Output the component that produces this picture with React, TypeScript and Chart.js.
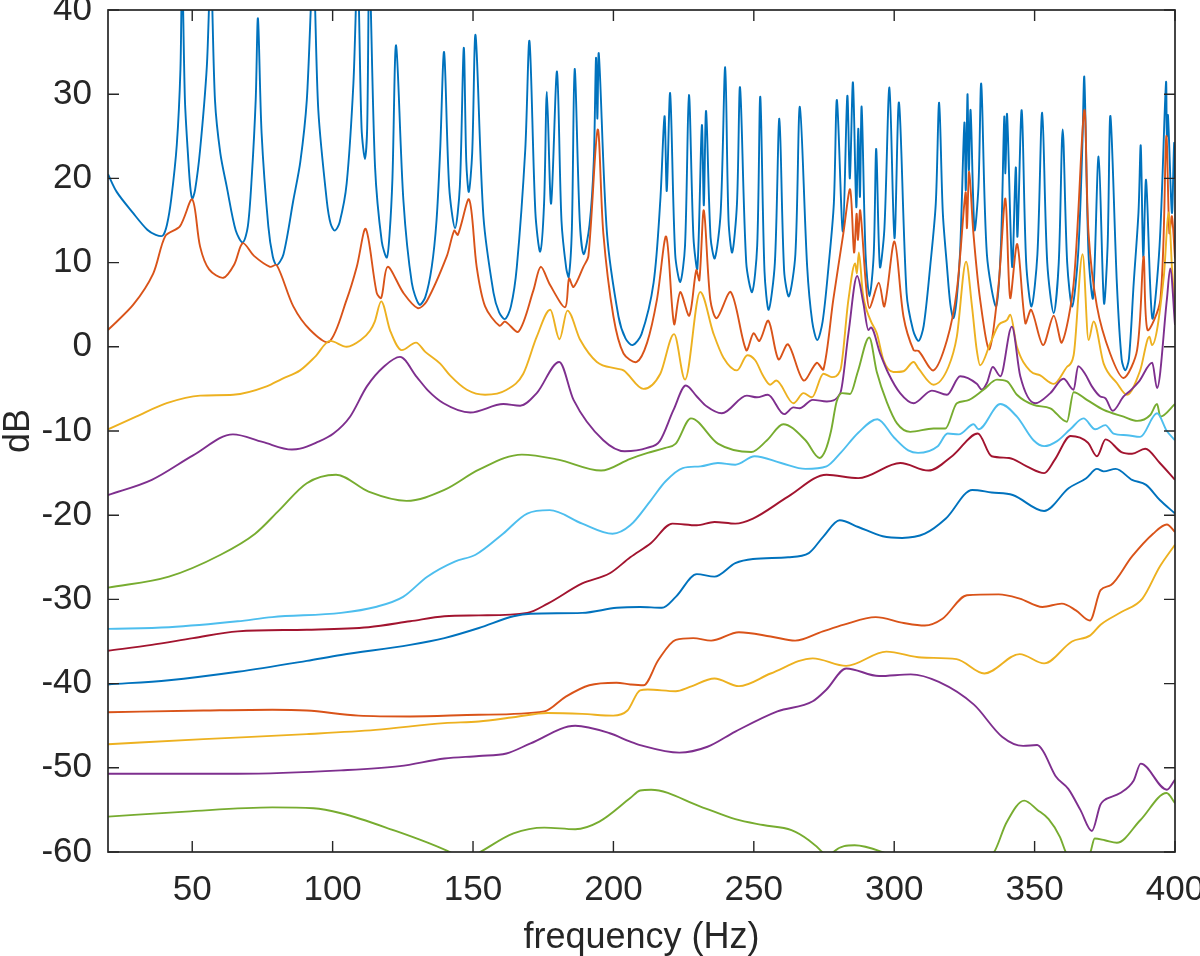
import React, { useEffect, useRef } from 'react';
import { Chart, registerables } from 'chart.js';

Chart.register(...registerables);

type P = [number, number];

// axis ticks
const xTicks = [50, 100, 150, 200, 250, 300, 350, 400];
const yTicks = [-60, -50, -40, -30, -20, -10, 0, 10, 20, 30, 40];

// series: [frequency (Hz), level (dB)]
const blueTop: P[] = [[20,20.5],[23.1,18.4],[28.9,15.9],[34,13.9],[37,13.3],[39.5,13.2],[41,14.5],[42.5,17.5],[44.5,24],[45.8,33],[46.4,45],[47.4,29.3],[48.6,22.2],[49.3,19.0],[50.0,17.6],[51.0,18.6],[52.8,23.4],[55.2,33.3],[56.6,45],[58.1,29.3],[60,23],[62.3,19.0],[65.5,13.8],[68.0,12.4],[69.8,14.3],[71.2,20.2],[72.6,29.3],[73.4,39.0],[74.7,25.4],[77.1,14.3],[78.7,10.7],[80.1,9.7],[82.5,11.0],[86.0,17.4],[88.5,22],[90.8,29.3],[93.1,45],[94.9,28.1],[97.9,17.4],[99.3,14.6],[100.8,13.8],[102.5,14.8],[105.0,19.4],[107.4,31.3],[108.9,45],[110.3,26],[111.5,22.3],[112.3,26],[113.1,45],[115.1,21.4],[117.5,12.5],[119.3,10.6],[120.3,13.5],[121.3,20],[122.6,35.8],[125.2,17.4],[128.2,7.6],[130.9,5.0],[133,5.9],[135.3,9.5],[137,15],[138.3,23.4],[139.7,35.0],[141.5,19],[143.6,14.1],[145.3,19],[146.7,35.5],[147.6,22],[148.5,18.4],[149.7,23],[150.9,37.0],[153.7,15.5],[157.3,6.4],[159.3,4.1],[161.4,3.3],[163.5,4.8],[165.6,9.5],[168.6,23.4],[170.1,36.3],[172.2,16],[173.9,11.3],[175.3,17],[176.3,30.3],[177.8,17.0],[179.9,32.7],[181.5,15],[183.2,9.3],[184.1,8.3],[185.2,14],[186.2,33.0],[188,15],[189.4,11.0],[191.5,14.5],[193,22],[193.8,34.3],[194.3,27.1],[194.8,34.8],[197.7,13.5],[201.8,3.6],[204.3,1.0],[206.8,0.2],[210,1.5],[214.3,7.6],[216.7,17.4],[218.2,27.4],[219.0,18.5],[220.2,30.1],[222,11],[223.8,7.7],[225.5,12],[226.9,29.9],[228.5,13],[229.9,9.3],[231.5,26.3],[232.2,16.8],[233.0,28.0],[234.6,13],[236.1,10.5],[238.2,16],[239.8,33.2],[241,15],[242.3,11.2],[244,17],[245.1,30.8],[247.3,10],[249.4,6.5],[251.2,12],[252.3,29.7],[253.8,9],[255.3,4.4],[257.5,10],[259.1,27.1],[260.8,9],[262.5,6.0],[264.8,11],[266.4,28.5],[269.0,9.5],[270.8,3.0],[272.6,0.8],[274.5,3.0],[276.6,9.5],[278.5,17],[279.6,29.3],[281.7,13.7],[283.3,29.8],[284.2,20.0],[285.3,31.4],[286.5,16.6],[287.2,25.9],[287.8,17.8],[288.4,28.5],[289.8,11],[291.2,6.0],[292.7,11],[293.6,23.5],[294.9,9.5],[296.5,14],[298.3,30.8],[300.1,12.9],[301.7,29.0],[304.4,6.4],[306.7,2.0],[308.7,0.7],[310.5,2.5],[312.8,9.5],[314.8,17],[316.0,29.0],[317.3,16],[318.8,9.5],[320,5.0],[321.1,3.4],[322.3,5.8],[323.5,11.5],[325.0,26.6],[325.5,18.6],[326.1,30.0],[326.6,21.0],[327.2,28.1],[328.6,13.9],[330,19],[331.0,31.2],[333,11],[336.3,4.8],[338,12],[339.2,27.3],[339.6,20.6],[340.2,27.6],[342.0,9.5],[343.3,21.3],[343.9,13.1],[345.4,28.1],[347,10],[348.9,4.8],[351,11],[352.7,27.8],[354.5,10],[356.8,4.0],[358.6,10],[360.0,25.8],[361.6,10],[363.4,4.8],[365.5,11],[367.0,23.8],[367.7,32.0],[369.2,11],[370.8,5.8],[372.8,22.6],[374.7,5.2],[376,12],[377.0,27.4],[379.3,7.5],[381,-1.5],[382.3,-2.8],[383.6,-1.4],[385.3,7.6],[387,16],[387.8,23.9],[388.7,10.7],[389.7,19.8],[391.9,3.4],[394.5,12],[396.8,31.4],[397.1,25.0],[397.5,27.5],[398.9,15.9],[399.7,24.2],[400,20]];

const orangeTop: P[] = [[20,2.0],[29.0,5.0],[36.1,8.7],[40.5,13.2],[45.6,14.3],[50.0,17.5],[52.8,11.9],[56,9.2],[61.1,8.2],[65,9.8],[68.0,12.3],[72,10.8],[77.7,9.5],[80.1,9.7],[86.0,4.8],[92,2.0],[98.8,0.6],[105,5.6],[108.6,9.5],[111.8,14.0],[115.7,6.4],[117.3,5.8],[119.6,9.5],[125.2,6.4],[130.3,4.6],[133.5,5.4],[140.6,10.7],[143.3,13.8],[144.6,13.3],[148.6,17.5],[151.3,9.5],[154.3,4.8],[159.4,2.5],[161.4,3.0],[166.2,1.8],[171.5,6.7],[174.1,9.5],[177.5,7.3],[182.8,4.7],[184.2,8.1],[185.8,7.1],[189.3,9.5],[191.1,10.8],[194.4,25.8],[196.4,13.5],[200.0,3.6],[203.6,-0.8],[208.3,-1.8],[212,0.5],[215.5,5.6],[218.8,13.1],[221.6,2.7],[223.8,6.5],[227.0,3.7],[229.5,9.1],[230.6,7.9],[232.2,16.2],[234.5,5.6],[236.8,3.4],[241.8,6.5],[247.3,-0.4],[249.9,1.6],[252.0,0.7],[255.2,3.1],[258.8,-1.5],[262.2,0.3],[267.7,-4.0],[272.4,-1.9],[274.8,-2.7],[278.3,5.6],[281.9,13.5],[284.3,18.7],[285.7,11.2],[286.6,15.8],[287.1,12.7],[287.9,16.2],[289.9,7.5],[291.2,4.6],[294.5,7.6],[296.5,4.8],[300.1,12.5],[303.3,3.6],[306.9,-0.4],[308.7,-0.5],[314.0,-2.8],[318.8,0.8],[322.3,6.7],[325.4,18.3],[325.9,14.1],[326.7,20.8],[328.2,13.5],[330.6,5.6],[333.9,-0.3],[337.2,7.5],[339.6,17.6],[341.3,5.8],[343.8,12.2],[346.7,2.8],[348.8,4.4],[353.0,0.2],[356.8,3.7],[359.7,0.5],[363.9,7.5],[367.7,28.1],[369.2,13.5],[372.2,4.8],[376.9,-0.8],[381.7,-3.7],[386.5,-0.4],[388.8,10.7],[390.2,2.0],[394.8,5.6],[396.9,25.0],[398.0,13.5],[398.9,15.5],[400,10.5]];

const yellowTop: P[] = [[20,-9.8],[30,-8.3],[40.9,-6.7],[52.8,-5.8],[64.6,-5.7],[76.5,-4.7],[82,-3.8],[88.4,-2.8],[93.7,-1.2],[99.1,0.7],[105,0.0],[110,0.8],[113.3,1.9],[115,3.0],[117.3,5.4],[120.5,1.9],[124.6,-0.4],[129.7,0.5],[133,-0.6],[138.3,-2.0],[141.8,-3.4],[147.8,-5.1],[154.3,-5.7],[162,-5.1],[167.9,-3.2],[172.7,1.2],[177.5,4.4],[180.8,0.9],[183.6,4.3],[188.2,0.8],[194.1,-1.8],[201.2,-2.6],[203.6,-2.8],[210.7,-5.0],[216.7,-3.2],[221.6,1.5],[225.5,-3.9],[230.9,6.5],[235.6,1.6],[239.2,-1.3],[244.0,-2.8],[247.7,-1.0],[250.5,-1.6],[253.4,-3.5],[255.8,-4.5],[258.0,-4.0],[264.1,-6.7],[267.7,-5.5],[270.7,-6.0],[274.8,-3.2],[277.8,-3.6],[280.8,-2.8],[283.7,5.6],[286.1,9.9],[286.7,8.7],[287.4,11.2],[288.8,6.4],[291.5,3.2],[293.8,1.6],[296.2,-1.6],[299.7,-3.0],[303.3,-2.9],[306.9,-1.8],[308.7,-2.6],[314,-4.5],[319.3,-2.4],[322.3,1.2],[325.6,10.1],[327.7,4.8],[329.4,-0.4],[330.6,-2.2],[334.2,0.4],[337.2,2.6],[340.2,3.2],[341.3,3.8],[343.7,0.0],[348.5,-2.9],[352,-3.4],[356.8,-4.4],[361.5,-2.4],[363.9,-1.0],[367.1,11.0],[369.2,0.8],[371.0,3.0],[374.6,-2.0],[379.3,-4.3],[382.9,-5.7],[387.6,-2.8],[390.9,1.2],[391.8,0.2],[396,8.3],[397.8,16.0],[398.9,9.5],[400,4.2]];

const purpleTop: P[] = [[20,-17.6],[35.6,-15.8],[50.3,-12.9],[64.5,-10.4],[75,-11.3],[85.5,-12.2],[88.4,-12.1],[94,-11.4],[100.3,-10.3],[106.2,-8.3],[112.2,-4.7],[118.1,-2.4],[124.0,-1.2],[130,-3.6],[134,-5.2],[139.5,-6.7],[149,-7.8],[160.8,-6.8],[166.8,-7.0],[172.7,-5.5],[180.7,-1.8],[185.8,-6.3],[196.4,-11.1],[204,-12.4],[212,-12.0],[216.5,-11.2],[221.4,-7.5],[225.8,-4.6],[229.7,-5.9],[233.3,-7.1],[238.6,-7.9],[247.5,-5.8],[251.1,-6.0],[255.0,-5.7],[260.8,-8.0],[264.1,-7.2],[266.3,-7.3],[271.0,-6.3],[276,-6.5],[280.8,-5.5],[283.7,1.6],[286.8,8.4],[289.0,5.2],[290.8,2.0],[291.7,2.3],[295,-0.8],[298,-3.2],[302.1,-5.5],[306.9,-6.7],[313.4,-5.2],[318.8,-5.7],[323.5,-3.5],[329.4,-4.4],[331.2,-5.1],[333,-4.3],[335.1,-2.4],[337.8,-3.5],[341.9,2.4],[344.9,-3.5],[350.2,-6.7],[355.6,-5.5],[360.3,-3.8],[363.9,-5.1],[365.5,-2.3],[368.1,-3.3],[370.4,-4.7],[373.4,-5.9],[375.2,-6.1],[377.8,-7.6],[381.7,-5.9],[384.1,-5.2],[387.2,-4.1],[391.9,-1.9],[393.6,-4.9],[397.1,5.6],[398.3,9.3],[400,2.6]];

const greenTop: P[] = [[20,-28.6],[41.7,-27.3],[60.1,-24.7],[72.4,-22.2],[81.0,-19.4],[90.8,-16.2],[101.2,-15.2],[112.8,-17.2],[126.3,-18.3],[139.8,-17.0],[152.1,-14.6],[167.4,-12.8],[180.3,-13.4],[195.6,-14.7],[206,-13.3],[212.2,-12.6],[218.5,-12.0],[222.2,-11.5],[227.6,-8.5],[237.2,-11.5],[249.1,-12.5],[254.7,-11.1],[260.5,-9.2],[268.4,-11.1],[273.4,-13.2],[275.5,-12.3],[277.5,-10],[279.5,-6.5],[281.4,-5.5],[284.3,-5.6],[287,-3],[291.1,1.1],[293.8,-3.0],[297.4,-6.6],[301,-9.1],[305.7,-10.1],[314,-9.7],[318.2,-9.7],[322.3,-6.7],[325.9,-6.4],[331.8,-5.1],[336.6,-3.9],[340.2,-4.1],[343.7,-5.7],[349.6,-6.9],[355.6,-7.3],[361.5,-8.9],[363.9,-5.4],[368.6,-6.3],[374.6,-7.5],[381.7,-8.3],[386.5,-8.8],[391.2,-8.1],[393.6,-6.8],[394.8,-8.3],[400,-6.8]];

const lightBlue: P[] = [[20,-33.5],[41.7,-33.3],[66.2,-32.6],[78.5,-32.1],[103.0,-31.6],[115.3,-30.9],[125.1,-29.7],[133.7,-27.3],[143.5,-25.5],[150.9,-24.7],[160.7,-22.2],[169.3,-19.8],[177.3,-19.4],[188.9,-21.0],[199.7,-22.2],[206,-21.2],[213.4,-18.2],[218.5,-16.0],[224.7,-14.4],[231.0,-14.2],[237.2,-13.8],[243.4,-14.0],[250.3,-13.0],[259.7,-13.8],[268.4,-14.5],[275.9,-14.2],[280.9,-12.6],[287.2,-10.2],[294,-8.6],[300,-10.8],[305,-12.3],[308.5,-12.6],[315.5,-11.8],[319,-10.3],[323,-10.4],[328.3,-9.2],[330.0,-9.8],[337.8,-6.8],[343.7,-8.3],[349.6,-11.1],[353.4,-11.8],[358,-11.2],[362.7,-9.8],[367.4,-8.5],[371.6,-9.8],[375.2,-9.3],[378.1,-10.3],[382.9,-10.5],[387.6,-10.7],[393.6,-7.9],[397.1,-10.0],[400,-11.1]];

const darkRed: P[] = [[20,-36.1],[35.6,-35.4],[50.3,-34.6],[66.2,-33.8],[90.8,-33.6],[112.8,-33.3],[127.6,-32.6],[139.8,-32.0],[152.1,-31.9],[169.3,-31.6],[176.6,-30.5],[188.9,-28.1],[198.7,-26.9],[206,-25.0],[213.4,-23.3],[221.0,-21.0],[229.7,-21.2],[236.0,-20.8],[243.4,-21.0],[249.7,-20.4],[262.2,-17.8],[275.9,-15.2],[287.2,-15.6],[302.2,-13.8],[312.2,-14.7],[320.9,-12.9],[329.8,-10.3],[334.7,-13.0],[340.9,-13.2],[347.2,-14.2],[353.4,-15.0],[357.2,-13.4],[362.8,-10.6],[369.0,-11.4],[372.2,-13.0],[375.3,-11.0],[380.9,-12.5],[384.7,-12.7],[389.4,-12.1],[394.6,-13.8],[400,-15.8]];

const blueLow: P[] = [[20,-40.1],[41.7,-39.6],[66.2,-38.6],[90.8,-37.3],[103.0,-36.6],[127.6,-35.4],[139.8,-34.6],[152.1,-33.4],[164.4,-32.0],[170.6,-31.7],[188.9,-31.6],[201.2,-31.0],[209.5,-30.9],[217.3,-31.0],[222.2,-29.7],[229.7,-27.0],[236.0,-27.3],[243.4,-25.7],[249.7,-25.2],[262.2,-25.0],[269.6,-24.5],[274.6,-22.6],[280.6,-20.6],[287.2,-21.4],[295.9,-22.5],[302.8,-22.7],[310.9,-22.2],[318.4,-20.4],[327.8,-17.0],[334.7,-17.3],[342.2,-17.6],[353.4,-19.5],[362.1,-16.8],[368.4,-15.6],[372.2,-14.5],[374.6,-14.8],[378.9,-14.5],[384.7,-15.8],[389.7,-16.4],[394.6,-18.2],[400,-19.8]];

const orangeLow: P[] = [[20,-43.4],[54.0,-43.2],[78.5,-43.1],[90.8,-43.2],[109.2,-43.8],[127.6,-43.9],[152.1,-43.7],[175.4,-43.3],[182.8,-41.6],[191.4,-40.2],[201.1,-39.9],[206,-40.1],[210.7,-40.2],[216.0,-37.2],[222.2,-34.8],[228.4,-34.6],[234.8,-34.9],[244.7,-33.9],[256.0,-34.4],[264.7,-34.9],[274.6,-33.8],[282.1,-33.0],[293.4,-32.1],[303.4,-32.8],[310.9,-33.1],[317.2,-32.3],[325.9,-29.5],[337.2,-29.4],[344.7,-29.9],[352.8,-30.9],[359.7,-30.5],[364.7,-31.3],[369.7,-32.5],[373.5,-28.9],[377.2,-28.3],[384.7,-24.9],[392.2,-22.2],[397.1,-21.1],[400,-22.0]];

const yellowLow: P[] = [[20,-47.2],[54.0,-46.6],[90.8,-46.0],[115.3,-45.5],[139.8,-44.7],[152.1,-44.5],[164.4,-44.0],[176.6,-43.5],[188.9,-43.6],[199.9,-43.8],[205,-43.2],[209.5,-40.8],[212.2,-40.7],[222.2,-40.9],[227.2,-40.4],[236.0,-39.4],[244.7,-40.3],[256.0,-38.8],[271.0,-37.0],[282.9,-37.9],[297.2,-36.2],[309.7,-36.9],[322.2,-37.1],[332.1,-38.8],[344.7,-36.5],[353.4,-37.6],[363.3,-35.0],[369.7,-34.3],[373.5,-33.0],[380.9,-31.5],[388.4,-29.9],[394.6,-26.1],[400,-23.5]];

const purpleLow: P[] = [[20,-50.7],[66.2,-50.7],[103.0,-50.3],[123.9,-49.8],[139.8,-48.9],[152.1,-48.6],[161.9,-48.3],[170.5,-47.1],[186.4,-45.0],[198.7,-45.9],[206,-46.9],[209.5,-47.3],[223.5,-48.2],[233.5,-47.5],[243.4,-45.7],[258.4,-43.3],[271.0,-42.1],[275.9,-40.7],[282.9,-38.2],[294.6,-39.1],[305.9,-38.9],[315.9,-39.8],[328.4,-42.5],[338.4,-46.3],[345.9,-47.4],[350.9,-47.3],[353,-48.0],[357.5,-51.0],[362,-52.5],[366.3,-55.0],[370.4,-57.5],[373.4,-54.4],[374.6,-53.9],[380.5,-53.0],[385.3,-51.5],[387.8,-49.5],[397.1,-52.6],[400,-51.4]];

const greenLow: P[] = [[20,-55.8],[47.8,-55.2],[78.5,-54.7],[93.2,-54.8],[103.0,-55.4],[119.0,-57.1],[142.3,-60.1],[147,-61],[152.1,-60.1],[164.4,-57.8],[175.4,-57.1],[186.4,-57.3],[195.0,-56.4],[206,-53.6],[209.5,-52.7],[213.4,-52.6],[231.0,-54.6],[243.4,-56.1],[253.3,-56.8],[263.4,-57.4],[269.6,-58.6],[274.6,-60.1],[276.5,-61],[278.4,-60.0],[285.9,-59.2],[296.6,-60.1],[316,-63],[335.4,-60.1],[340,-56.5],[346.3,-53.9],[351,-55.0],[355,-56.1],[359,-58.2],[361.2,-60.1],[365,-62],[369.8,-60.1],[371.4,-58.4],[375,-58.6],[379.3,-58.9],[387.7,-56.2],[397.0,-53.0],[400,-54.2]];

const seriesList: P[][] = [blueTop, orangeTop, yellowTop, purpleTop, greenTop, lightBlue, darkRed, blueLow, orangeLow, yellowLow, purpleLow, greenLow];
const seriesColors = ['#0072BD', '#D95319', '#EDB120', '#7E2F8E', '#77AC30', '#4DBEEE', '#A2142F', '#0072BD', '#D95319', '#EDB120', '#7E2F8E', '#77AC30'];
// 'curve' = light cardinal tension (keeps sharp resonance peaks), 'smooth' = monotone
const seriesStyle = ['curve', 'curve', 'smooth', 'smooth', 'smooth', 'smooth', 'smooth', 'smooth', 'smooth', 'smooth', 'smooth', 'smooth'];

const FONT = "'Liberation Sans', Arial, Helvetica, sans-serif";
const AXIS = '#262626';

const framePlugin = {
  id: 'matlabFrame',
  afterDatasetsDraw(chart: any) {
    const { ctx, chartArea: a, scales } = chart;
    const tl = 11;
    ctx.save();
    ctx.strokeStyle = AXIS;
    ctx.lineWidth = 1.4;
    ctx.beginPath();
    for (const v of xTicks) {
      const px = scales.x.getPixelForValue(v);
      ctx.moveTo(px, a.bottom); ctx.lineTo(px, a.bottom - tl);
      ctx.moveTo(px, a.top); ctx.lineTo(px, a.top + tl);
    }
    for (const v of yTicks) {
      const py = scales.y.getPixelForValue(v);
      ctx.moveTo(a.left, py); ctx.lineTo(a.left + tl, py);
      ctx.moveTo(a.right, py); ctx.lineTo(a.right - tl, py);
    }
    ctx.stroke();
    ctx.lineWidth = 1.7;
    ctx.strokeRect(a.left, a.top, a.right - a.left, a.bottom - a.top);
    ctx.restore();
  },
};

export default function App() {
  const ref = useRef<HTMLCanvasElement | null>(null);

  useEffect(() => {
    document.body.style.margin = '0';
    const canvas = ref.current;
    if (!canvas) return;
    const n = seriesList.length;
    const datasets = seriesList.map((s, i) => ({
      label: 'series ' + (i + 1),
      data: s.map(([x, y]) => ({ x, y })),
      borderColor: seriesColors[i],
      backgroundColor: seriesColors[i],
      borderWidth: 1.9,
      pointRadius: 0,
      fill: false,
      tension: seriesStyle[i] === 'curve' ? 0.3 : 0,
      cubicInterpolationMode: seriesStyle[i] === 'smooth' ? 'monotone' : 'default',
      order: n - i,
    }));

    const chart = new Chart(canvas, {
      type: 'line',
      data: { datasets: datasets as any },
      plugins: [framePlugin],
      options: {
        responsive: false,
        animation: false,
        devicePixelRatio: 1,
        layout: { padding: { top: 10, right: 25, left: 0, bottom: 0 } },
        plugins: { legend: { display: false }, tooltip: { enabled: false } },
        scales: {
          x: {
            type: 'linear',
            min: 20,
            max: 400,
            grid: { display: false, drawTicks: false },
            border: { display: false },
            afterBuildTicks: (scale: any) => { scale.ticks = xTicks.map((v) => ({ value: v })); },
            afterFit: (scale: any) => { scale.height = 104; scale.paddingLeft = 0; scale.paddingRight = 0; },
            ticks: {
              autoSkip: false,
              maxRotation: 0,
              minRotation: 0,
              padding: 17,
              color: AXIS,
              font: { family: FONT, size: 35 },
            },
            title: {
              display: true,
              text: 'frequency (Hz)',
              color: AXIS,
              font: { family: FONT, size: 36, lineHeight: 1.0 },
              padding: { top: 0, bottom: 0 },
            },
          },
          y: {
            type: 'linear',
            min: -60,
            max: 40,
            grid: { display: false, drawTicks: false },
            border: { display: false },
            afterBuildTicks: (scale: any) => { scale.ticks = yTicks.map((v) => ({ value: v })); },
            afterFit: (scale: any) => { scale.width = 108; scale.paddingTop = 0; scale.paddingBottom = 0; },
            ticks: {
              autoSkip: false,
              padding: 16,
              color: AXIS,
              font: { family: FONT, size: 35 },
            },
            title: {
              display: true,
              text: 'dB',
              color: AXIS,
              font: { family: FONT, size: 36, lineHeight: 1.0 },
              padding: { top: 1, bottom: 0 },
            },
          },
        },
      } as any,
    });
    return () => chart.destroy();
  }, []);

  return (
    <div style={{ position: 'absolute', left: 0, top: 0, width: 1200, height: 956, background: '#fff' }}>
      <canvas ref={ref} width={1200} height={956} style={{ display: 'block', width: 1200, height: 956 }} />
    </div>
  );
}
